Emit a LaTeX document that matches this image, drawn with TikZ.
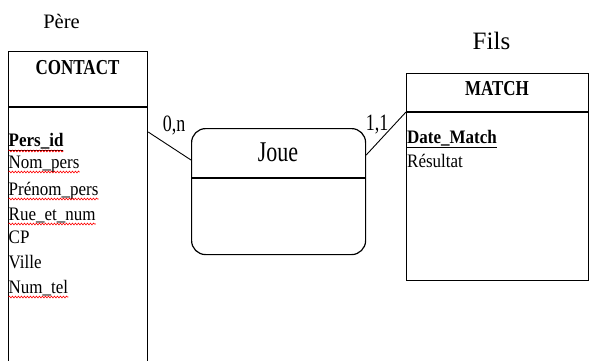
\documentclass[tikz,border=0pt]{standalone}
\usepackage{fontspec}
\setmainfont{Liberation Serif}
\usetikzlibrary{decorations.pathmorphing,calc}
\newcommand{\vstr}[2][1.3]{\scalebox{1}[#1]{#2}}
\begin{document}
\begin{tikzpicture}[x=1pt,y=-1pt,
  ln/.style={line width=1.2pt},
  conn/.style={line width=0.9pt},
  attr/.style={anchor=base west, inner sep=0pt, font=\fontsize{17}{17}\selectfont},
  key/.style={anchor=base west, inner sep=0pt, font=\fontsize{17}{17}\selectfont\bfseries},
  ttl/.style={anchor=base, inner sep=0pt, font=\fontsize{17}{17}\selectfont\bfseries},
  role/.style={anchor=base, inner sep=0pt},
  card/.style={anchor=base, inner sep=0pt, font=\fontsize{18}{18}\selectfont},
  spell/.style={red, line width=0.6pt, decorate, decoration={snake, amplitude=0.9pt, segment length=3pt}},
]
\fill[white] (0,0) rectangle (590,360);
\useasboundingbox (0,0) rectangle (590,360);
\clip (0,0) rectangle (590,360);

% entity boxes
\node[draw, ln, anchor=north west, minimum width=139pt, minimum height=330pt, inner sep=0pt] (contact) at (8,51) {};
\draw[ln] ($(contact.north west)+(0,56)$) -- ($(contact.north east)+(0,56)$);
\node[draw, ln, anchor=north west, minimum width=182pt, minimum height=207pt, inner sep=0pt] (match) at (406,73) {};
\draw[ln] ($(match.north west)+(0,39)$) -- ($(match.north east)+(0,39)$);

% association
\node[draw, ln, rounded corners=14pt, anchor=north west, minimum width=174pt, minimum height=126pt, inner sep=0pt] (joue) at (191,128) {};
\draw[ln] ($(joue.north west)+(0,50)$) -- ($(joue.north east)+(0,50)$);

% role labels
\node[role, font=\fontsize{20.5}{20.5}\selectfont] (pere) at (61.5,28) {Père};
\node[role, font=\fontsize{25}{25}\selectfont] (fils) at (491.5,49) {Fils};

% titles
\node[ttl] (contactT) at (77.5,74.5) {\vstr[1.25]{CONTACT}};
\node[ttl] (matchT) at (497,95) {\vstr[1.25]{MATCH}};
\node[card, font=\fontsize{22}{22}\selectfont] (joueT) at (278,161) {\vstr{Joue}};

% cardinalities
\node[card] (c1) at (174,131) {\vstr{0,n}};
\node[card] (c2) at (377,130) {\vstr{1,1}};

% CONTACT attributes
\node[key] (a1) at (8.5,146) {\vstr[1.12]{\underline{Pers\_id}}};
\node[attr] (a2) at (8.5,168) {\vstr[1.12]{Nom\_pers}};
\node[attr] (a3) at (8.5,195) {\vstr[1.12]{Prénom\_pers}};
\node[attr] (a4) at (8.5,220) {\vstr[1.12]{Rue\_et\_num}};
\node[attr] (a5) at (8.5,243) {\vstr[1.12]{CP}};
\node[attr] (a6) at (8.5,268) {\vstr[1.12]{Ville}};
\node[attr] (a7) at (8.5,293) {\vstr[1.12]{Num\_tel}};

% MATCH attributes
\node[key] (b1) at (407,143) {\vstr[1.12]{\underline{Date\_Match}}};
\node[attr] (b2) at (407,167) {\vstr[1.12]{Résultat}};

% spell-check marks
\foreach \n/\d in {a1/5,a2/4,a3/4,a4/4,a7/4}{
  \draw[spell] ($(\n.base west)+(0,\d)$) -- ($(\n.base east)+(0,\d)$);
}

% connectors
\draw[conn] ($(contact.north east)+(0,81)$) -- ($(joue.north west)+(0,32)$);
\draw[conn] ($(joue.north east)+(0,27)$) -- ($(match.north west)+(0,39)$);
\end{tikzpicture}
\end{document}
